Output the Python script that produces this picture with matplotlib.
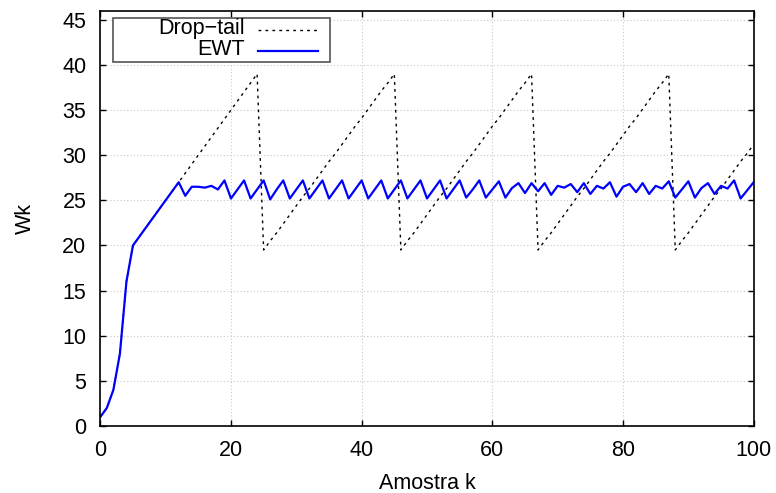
import matplotlib
matplotlib.use("Agg")
import matplotlib.pyplot as plt
from matplotlib.lines import Line2D
from matplotlib.patches import Rectangle

plt.rcParams['font.family'] = ['Liberation Sans', 'DejaVu Sans']

k = list(range(101))

drop_tail = [
    1, 2, 4, 8, 16, 20, 21, 22, 23, 24, 25, 26, 27, 28, 29, 30, 31, 32, 33, 34, 35, 36, 37, 38, 39,
    19.5, 20.5, 21.4, 22.4, 23.4, 24.4, 25.4, 26.3, 27.3, 28.3, 29.3, 30.2, 31.2, 32.2, 33.2, 34.1, 35.1, 36.1, 37.1, 38.0, 39.0,
    19.5, 20.5, 21.4, 22.4, 23.4, 24.4, 25.4, 26.3, 27.3, 28.3, 29.3, 30.2, 31.2, 32.2, 33.2, 34.1, 35.1, 36.1, 37.1, 38.0, 39.0,
    19.5, 20.5, 21.4, 22.4, 23.4, 24.4, 25.4, 26.3, 27.3, 28.3, 29.3, 30.2, 31.2, 32.2, 33.2, 34.1, 35.1, 36.1, 37.1, 38.0, 39.0,
    19.5, 20.5, 21.4, 22.4, 23.4, 24.4, 25.4, 26.3, 27.3, 28.3, 29.3, 30.2, 31.2,
]

ewt = [
    1, 2, 4, 8, 16, 20, 21, 22, 23, 24, 25, 26, 27, 25.5, 26.5, 26.5, 26.4, 26.6, 26.2, 27.2,
    25.2, 26.2, 27.2, 25.2, 26.2, 27.2, 25.1, 26.2, 27.2, 25.2, 26.2, 27.2, 25.2, 26.2, 27.2,
    25.2, 26.2, 27.2, 25.2, 26.2, 27.2, 25.2, 26.2, 27.2, 25.2, 26.2, 27.2, 25.2, 26.2, 27.2,
    25.2, 26.2, 27.2, 25.2, 26.2, 27.2, 25.3, 26.2, 27.2, 25.3, 26.2, 27.1, 25.3, 26.35, 26.9,
    25.8, 26.9, 26.0, 26.9, 25.6, 26.6, 26.4, 26.8, 25.9, 26.9, 25.7, 26.6, 26.3, 27.0, 25.4,
    26.5, 26.8, 25.9, 26.9, 25.7, 26.6, 26.3, 27.1, 25.3, 26.2, 27.1, 25.3, 26.35, 26.9, 25.7,
    26.6, 26.3, 27.2, 25.2, 26.1, 27.0,
]

labels = ["Drop\u2212tail", "EWT"]
x_ticks = [0, 20, 40, 60, 80, 100]
y_ticks = [0, 5, 10, 15, 20, 25, 30, 35, 40, 45]

FS = 15.5

fig = plt.figure(figsize=(7.76, 4.93), dpi=100)
ax = fig.add_axes([100.3 / 776, 1 - 426 / 493, (753.7 - 100.3) / 776, (426 - 10.7) / 493])

dt_style = dict(color='black', lw=1.0, linestyle=(0, (2, 3)))
ewt_style = dict(color='#0000ff', lw=1.6)

ax.plot(k, drop_tail, **dt_style, zorder=3)
ax.plot(k, ewt, **ewt_style, zorder=4)

ax.set_xlim(0, 100)
ax.set_ylim(0, 46)
ax.set_xticks(x_ticks)
ax.set_yticks(y_ticks)
ax.tick_params(direction='in', length=4.5, width=1, top=True, right=True,
               labelsize=FS, colors='black')
ax.tick_params(axis='x', pad=10)
ax.tick_params(axis='y', pad=10)
ax.grid(True, color='#c8c8c8', linestyle=(0, (1, 2)), lw=0.8, zorder=0)
for s in ax.spines.values():
    s.set_linewidth(1.2)
    s.set_zorder(5)

ax.set_xlabel("Amostra k", fontsize=FS, labelpad=9)
ax.set_ylabel("Wk", fontsize=FS, labelpad=19)

# gnuplot-style legend: right-aligned text then sample line
def px(x, y):
    return ((x - 100.3) / (753.7 - 100.3), (426 - y) / (426 - 10.7))

x0, y0 = px(113.3, 61.7)
x1, y1 = px(330, 17.7)
ax.add_patch(Rectangle((x0, y0), x1 - x0, y1 - y0, transform=ax.transAxes,
                       fill=True, facecolor='white', edgecolor='#555555', lw=1.2, zorder=6))
for i, (lab, st) in enumerate(zip(labels, [dt_style, ewt_style])):
    yy = 28.5 + i * 21
    tx, ty = px(245, yy)
    ax.text(tx, ty, lab, transform=ax.transAxes, ha='right', va='center', fontsize=FS, zorder=7)
    lx0, ly = px(258, yy + 1)
    lx1, _ = px(318, yy + 1)
    ax.add_line(Line2D([lx0, lx1], [ly, ly], transform=ax.transAxes, zorder=7, **st))

fig.savefig("out.png", dpi=100)
